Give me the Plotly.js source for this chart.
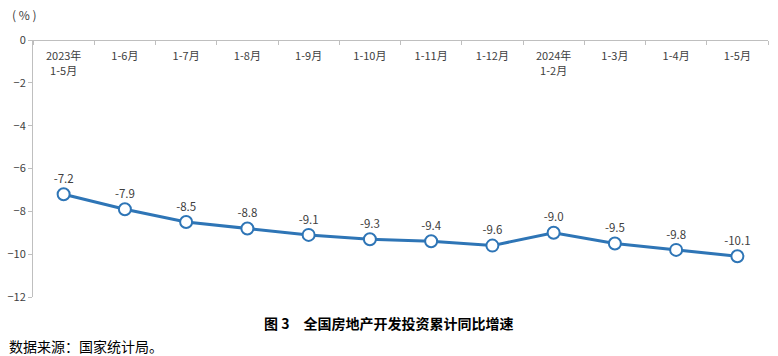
<!DOCTYPE html>
<html>
<head>
<meta charset="utf-8">
<script src="https://cdn.plot.ly/plotly-3.0.1.min.js"></script>
<style>html,body{margin:0;padding:0;background:#fff;}#chart{width:778px;height:356px;}</style>
</head>
<body>
<div id="chart"></div>
<script>
var categories = ["2023年<br>1-5月","1-6月","1-7月","1-8月","1-9月","1-10月","1-11月","1-12月","2024年<br>1-2月","1-3月","1-4月","1-5月"];
var growth = [-7.2,-7.9,-8.5,-8.8,-9.1,-9.3,-9.4,-9.6,-9.0,-9.5,-9.8,-10.1];
var yTicks = [0,-2,-4,-6,-8,-10,-12];
var chartTitle = "图 3　全国房地产开发投资累计同比增速";
var sourceText = "数据来源：国家统计局。";
var unitText = "( % )";

var font = "'Noto Sans CJK SC', 'Noto Sans', sans-serif";
var trace = {
  x: categories,
  y: growth,
  type: "scatter",
  mode: "lines+markers+text",
  text: growth.map(function(v){return v.toFixed(1);}),
  textposition: "top center",
  textfont: {family: font, size: 11.5, color: "#404040"},
  line: {color: "#2e75b6", width: 3},
  marker: {size: 12, color: "#ffffff", line: {color: "#2e75b6", width: 2}},
  cliponaxis: false,
  hoverinfo: "skip"
};
var layout = {
  width: 778, height: 356,
  margin: {l: 33, r: 10, t: 40, b: 59},
  paper_bgcolor: "#fff", plot_bgcolor: "#fff",
  showlegend: false,
  font: {family: font, color: "#404040", size: 11},
  xaxis: {
    type: "category",
    anchor: "free", position: 1, side: "bottom",
    showline: true, linecolor: "#bfbfbf", linewidth: 1,
    ticks: "outside", ticklen: 4, tickcolor: "#bfbfbf", tickson: "boundaries",
    ticklabelstandoff: 6,
    showgrid: false, zeroline: false,
    tickfont: {family: font, size: 11, color: "#404040"},
    range: [-0.5, 11.5]
  },
  yaxis: {
    range: [-12, 0],
    tickvals: yTicks,
    showline: true, linecolor: "#bfbfbf", linewidth: 1,
    ticks: "outside", ticklen: 4, tickcolor: "#bfbfbf",
    showgrid: false, zeroline: false,
    tickfont: {family: font, size: 11, color: "#404040"}
  },
  annotations: [
    {xref: "paper", yref: "paper", x: -0.031, y: 1.1, xanchor: "left", yanchor: "middle",
     text: unitText, showarrow: false, font: {family: font, size: 12, color: "#404040"}},
    {xref: "paper", yref: "paper", x: 0.483, y: -0.1, xanchor: "center", yanchor: "middle",
     text: "<b>" + chartTitle + "</b>", showarrow: false, font: {family: font, size: 14, color: "#000"}},
    {xref: "paper", yref: "paper", x: -0.036, y: -0.19, xanchor: "left", yanchor: "middle",
     text: sourceText, showarrow: false, font: {family: font, size: 14, color: "#000"}}
  ]
};
Plotly.newPlot("chart", [trace], layout, {displayModeBar: false, staticPlot: true});
</script>
</body>
</html>
